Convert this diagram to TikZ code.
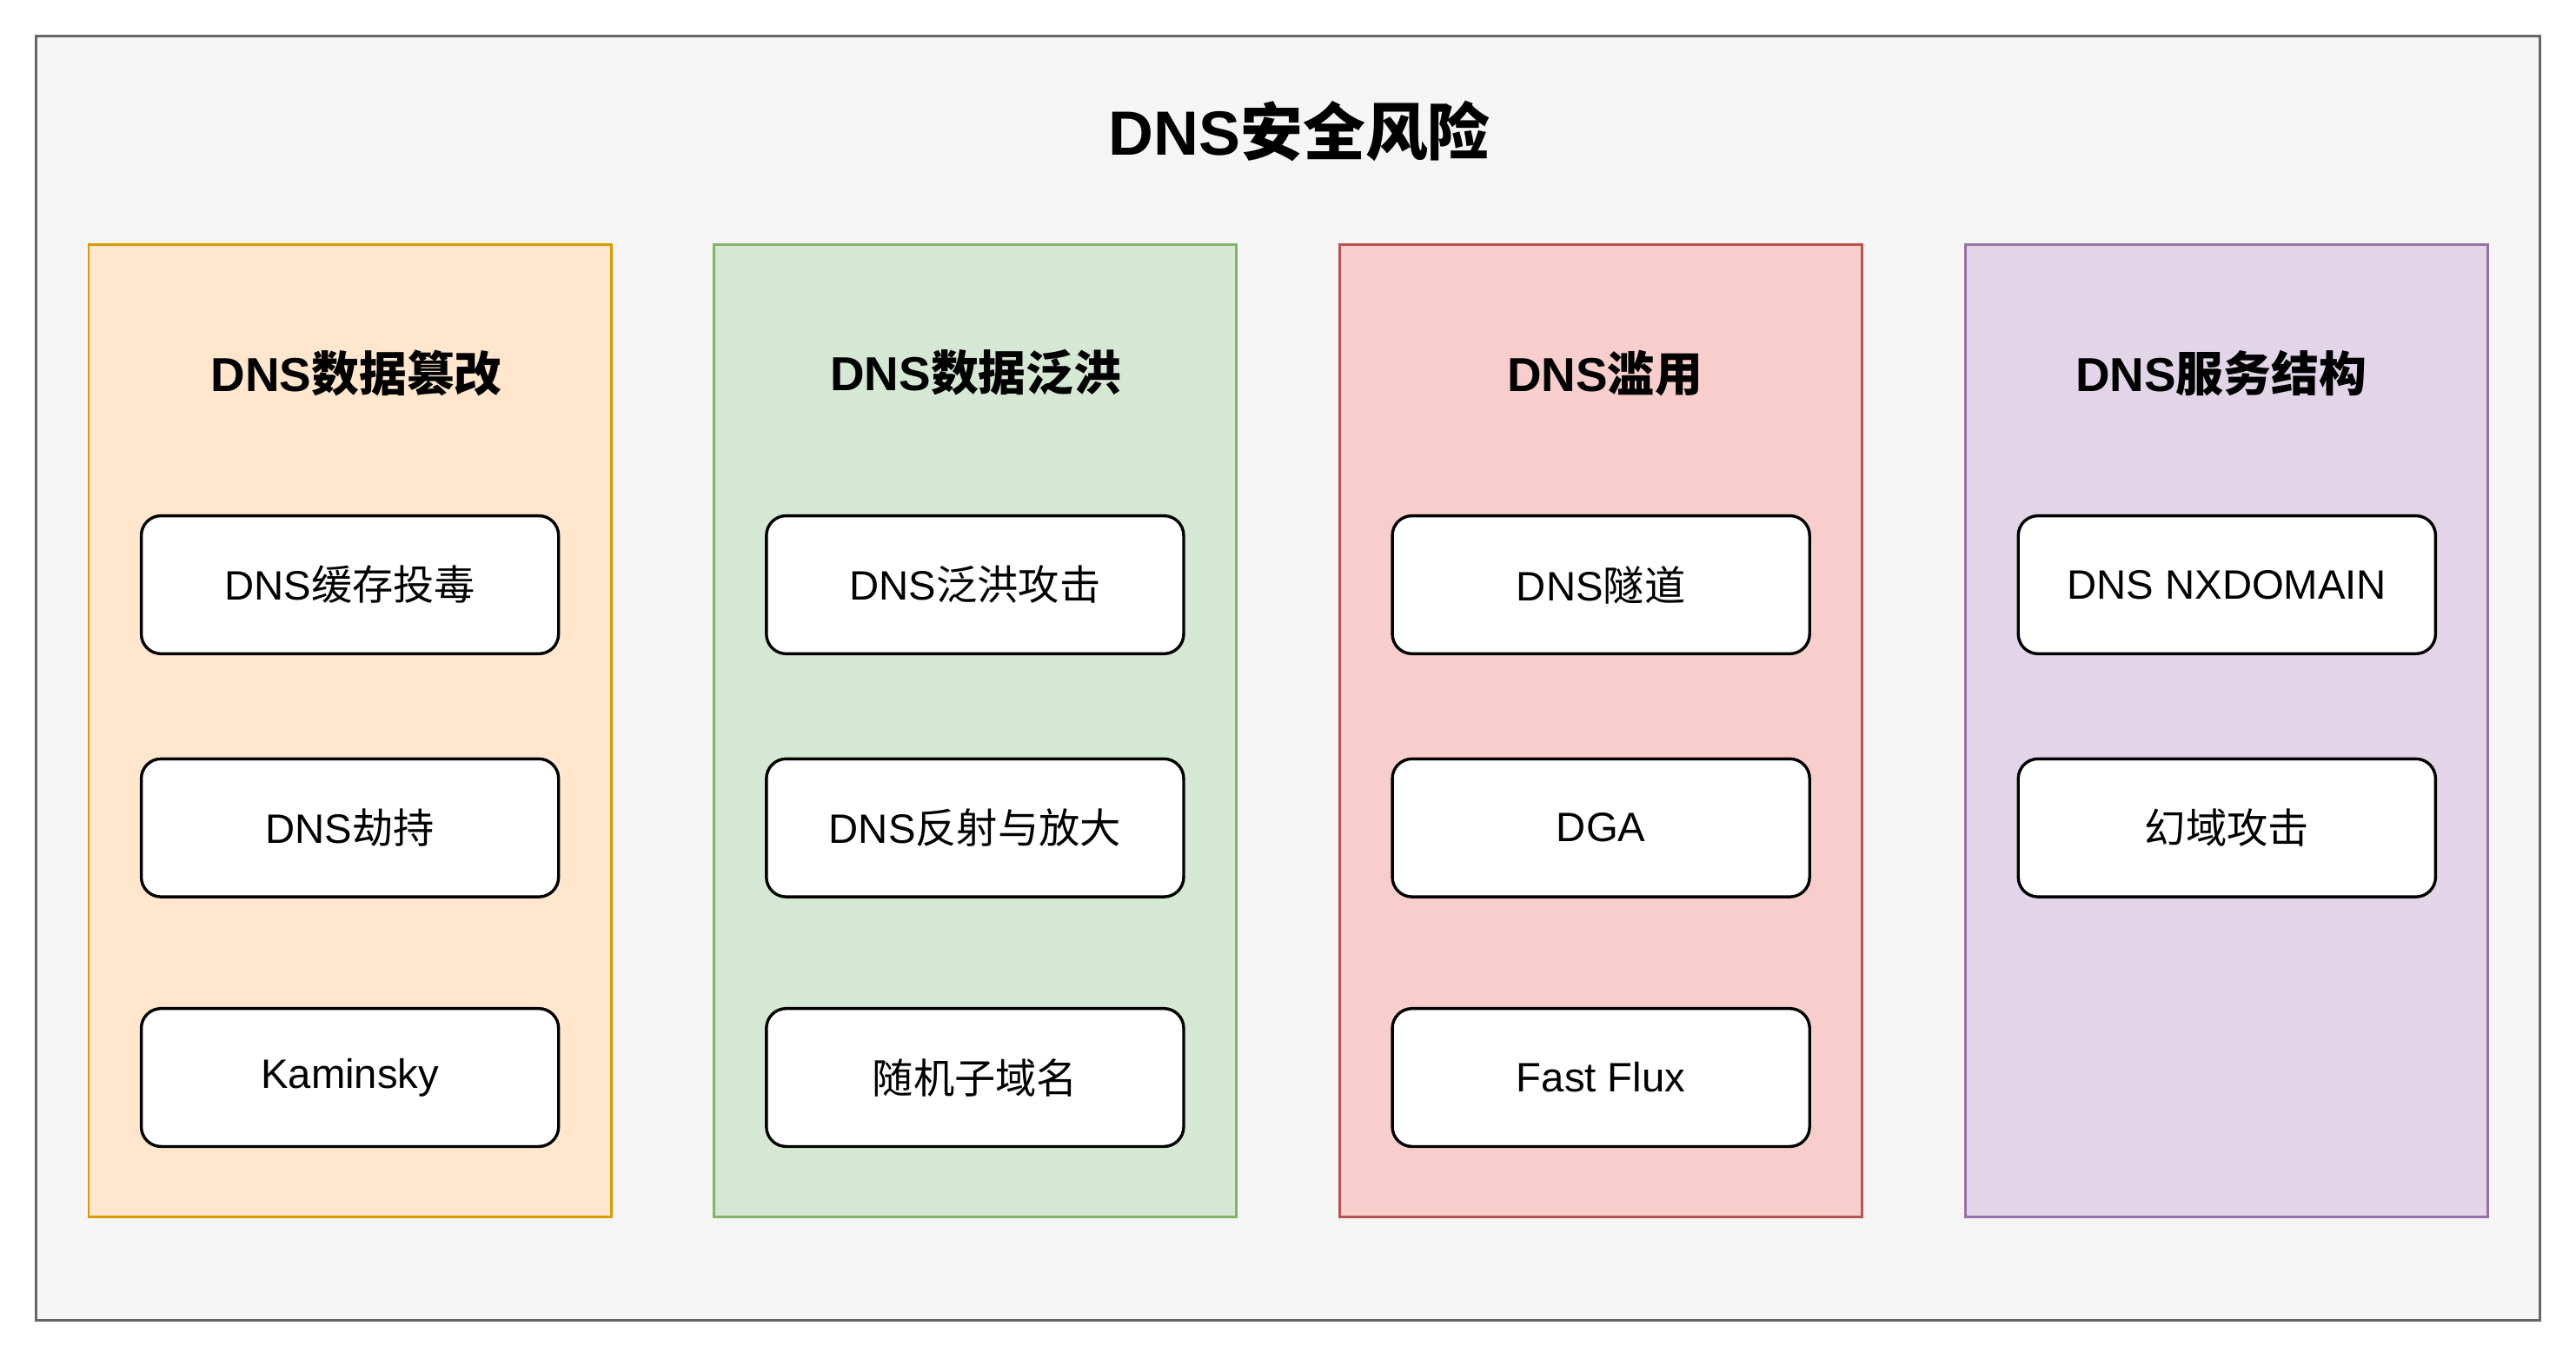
\documentclass[tikz,border=0pt]{standalone}
\usepackage{fontspec}
\setmainfont{Liberation Sans}
\newfontfamily\cjk{Noto Sans CJK SC}
\newcommand{\zh}[1]{{\cjk #1}}
\definecolor{outerfill}{HTML}{F5F5F5}
\definecolor{outerdraw}{HTML}{666666}
\definecolor{orfill}{HTML}{FFE6CC}
\definecolor{ordraw}{HTML}{D79B00}
\definecolor{grfill}{HTML}{D5E8D4}
\definecolor{grdraw}{HTML}{82B366}
\definecolor{rdfill}{HTML}{F8CECC}
\definecolor{rddraw}{HTML}{B85450}
\definecolor{pufill}{HTML}{E1D5E7}
\definecolor{pudraw}{HTML}{9673A6}
\tikzset{
  outerbox/.style={draw=outerdraw, fill=outerfill, line width=1.6pt},
  colbox/.style={line width=1.5pt, minimum width=318pt, minimum height=592pt, inner sep=0pt, rectangle},
  itembox/.style={draw=black, fill=white, line width=1.8pt, rounded corners=12pt, minimum width=254pt, minimum height=84pt, inner sep=0pt, font=\fontsize{25}{30}\selectfont},
  coltitle/.style={font=\fontsize{29}{34}\selectfont\bfseries, inner sep=0pt},
  maintitle/.style={font=\fontsize{38}{44}\selectfont\bfseries, inner sep=0pt},
}
\begin{document}
\begin{tikzpicture}[x=1pt,y=-1pt]
\useasboundingbox (0,0) rectangle (1568,827);
\node[outerbox, minimum width=1524pt, minimum height=782pt, inner sep=0pt] (outer) at (784,413) {};
\node[maintitle] (title) at (791,80) {DNS\zh{安全风险}};

\node[colbox, draw=ordraw, fill=orfill] (c1) at (213,445) {};
\node[colbox, draw=grdraw, fill=grfill] (c2) at (593.5,445) {};
\node[colbox, draw=rddraw, fill=rdfill] (c3) at (974.5,445) {};
\node[colbox, draw=pudraw, fill=pufill] (c4) at (1355.5,445) {};

\node[coltitle] (t1) at (217,227) {DNS\zh{数据篡改}};
\node[coltitle] (t2) at (594,227) {DNS\zh{数据泛洪}};
\node[coltitle] (t3) at (977,227) {DNS\zh{滥用}};
\node[coltitle] (t4) at (1352,227) {DNS\zh{服务结构}};

\node[itembox] (a1) at (213,356) {DNS\zh{缓存投毒}};
\node[itembox] (a2) at (213,504) {DNS\zh{劫持}};
\node[itembox] (a3) at (213,656) {Kaminsky};

\node[itembox] (b1) at (593.5,356) {DNS\zh{泛洪攻击}};
\node[itembox] (b2) at (593.5,504) {DNS\zh{反射与放大}};
\node[itembox] (b3) at (593.5,656) {\zh{随机子域名}};

\node[itembox] (d1) at (974.5,356) {DNS\zh{隧道}};
\node[itembox] (d2) at (974.5,504) {DGA};
\node[itembox] (d3) at (974.5,656) {Fast Flux};

\node[itembox] (e1) at (1355.5,356) {DNS NXDOMAIN};
\node[itembox] (e2) at (1355.5,504) {\zh{幻域攻击}};
\end{tikzpicture}
\end{document}
